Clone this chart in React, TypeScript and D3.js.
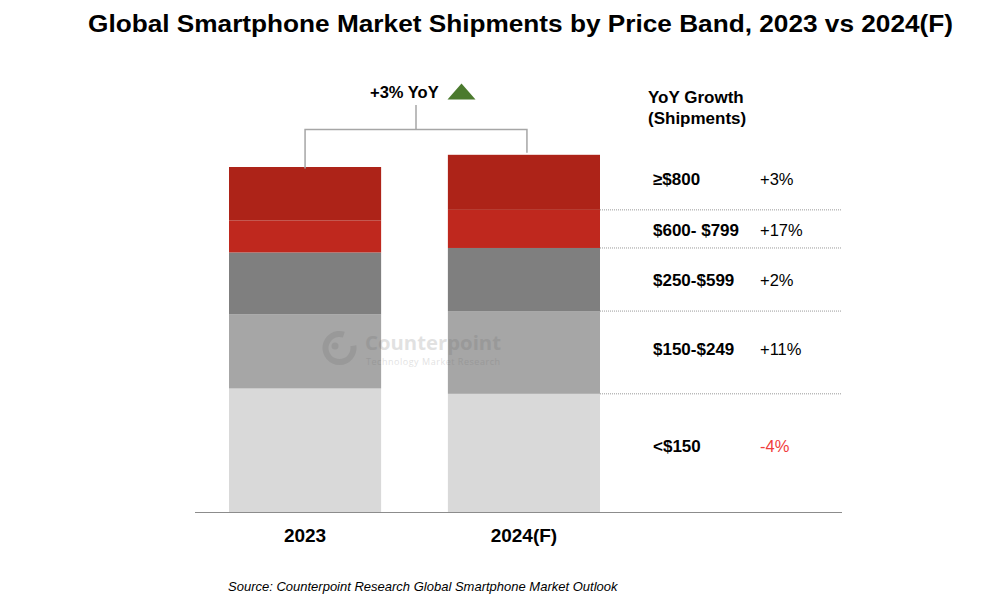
import React from "react";
import * as d3 from "d3";

const years = ["2023", "2024(F)"];
const bands = ["<$150", "$150-$249", "$250-$599", "$600- $799", "≥$800"];
const shipments2023 = [415, 249, 208, 107, 180];
const shipments2024 = [397, 278, 212, 128, 185];
const growthLabels = ["-4%", "+11%", "+2%", "+17%", "+3%"];
const bandColors = ["#D9D9D9", "#A6A6A6", "#7F7F7F", "#BF281E", "#AD2318"];
const totalGrowthLabel = "+3% YoY";

const W = 1000;
const H = 606;
const FONT = "'Liberation Sans', Arial, Helvetica, sans-serif";

export default function App() {
  const x = d3.scaleBand<string>().domain(years).range([229, 600]).paddingInner(0.305).paddingOuter(0);
  const y = d3.scaleLinear().domain([0, 1200]).range([512, 154.8]);

  const rows = years.map((yr, i) => {
    const vals = i === 0 ? shipments2023 : shipments2024;
    const obj: any = { year: yr };
    bands.forEach((b, j) => (obj[b] = vals[j]));
    return obj;
  });
  const series = d3.stack<any>().keys(bands)(rows);

  const bw = x.bandwidth();
  const c0 = (x(years[0]) as number) + bw / 2;
  const c1 = (x(years[1]) as number) + bw / 2 + 3;
  const top0 = y(d3.sum(shipments2023));
  const top1 = y(d3.sum(shipments2024));
  const bracketY = 129.5;
  const midX = (c0 + c1) / 2;
  const barRight = (x(years[1]) as number) + bw;

  return (
    <svg width={W} height={H} style={{ display: "block", position: "absolute", left: 0, top: 0 }} fontFamily={FONT}>
      <rect width={W} height={H} fill="#fff" />
      <text x={88} y={32} fontSize={23.5} fontWeight="bold" fill="#000" textLength={865} lengthAdjust="spacingAndGlyphs">
        Global Smartphone Market Shipments by Price Band, 2023 vs 2024(F)
      </text>

      {series.map((s, j) => (
        <g key={bands[j]} fill={bandColors[j]}>
          {s.map((d, i) => (
            <rect key={i} x={x(years[i])} width={bw} y={y(d[1])} height={y(d[0]) - y(d[1])} />
          ))}
        </g>
      ))}

      {/* dotted separators on the right */}
      {series.slice(0, bands.length - 1).map((s, j) => (
        <line key={j} x1={barRight} x2={842} y1={y(s[1][1])} y2={y(s[1][1])} stroke="#9a9a9a" strokeWidth={1} strokeDasharray="1,1" />
      ))}

      {/* watermark */}
      <g opacity={0.18} fill="#606060">
        <path
          d={d3.arc()({ innerRadius: 11, outerRadius: 17, startAngle: Math.PI * 0.45, endAngle: Math.PI * 2.1 }) as string}
          transform="translate(339.5,348)"
        />
        <circle cx={335} cy={346} r={3.5} />
        <text x={365} y={350} fontSize={19} fontWeight="bold" fontFamily="'Open Sans', sans-serif" textLength={136} lengthAdjust="spacingAndGlyphs">Counterpoint</text>
        <text x={366} y={365} fontSize={9} fontFamily="'Open Sans', sans-serif" textLength={134}>Technology Market Research</text>
      </g>

      {/* axis line */}
      <line x1={195} x2={842} y1={512.5} y2={512.5} stroke="#8c8c8c" strokeWidth={1.2} />
      {years.map((yr) => (
        <text key={yr} x={(x(yr) as number) + bw / 2} y={542} textAnchor="middle" fontSize={19} fontWeight="bold" fill="#000">
          {yr}
        </text>
      ))}

      {/* bracket */}
      <path
        d={`M${c0},${top0 + 1.5}V${bracketY}H${c1}V${top1 - 2}M${midX},${bracketY}V105`}
        fill="none"
        stroke="#a6a6a6"
        strokeWidth={1.5}
      />
      <text x={370} y={98} fontSize={16.5} fontWeight="bold" fill="#000">{totalGrowthLabel}</text>
      <path d="M447.5,99.5L461.5,83.5L475.5,99.5Z" fill="#4B7A2E" />

      {/* right-hand labels */}
      <text x={648} y={103} fontSize={17} fontWeight="bold" fill="#000">YoY Growth</text>
      <text x={648} y={123.5} fontSize={17} fontWeight="bold" fill="#000">(Shipments)</text>
      {series.map((s, j) => {
        const cy = (y(s[1][0]) + y(s[1][1])) / 2;
        const off = [-7, -3, 0, 1, -3.5][j];
        return (
          <g key={bands[j]}>
            <text x={653} y={cy + off + 6} fontSize={17} fontWeight="bold" fill="#000">{bands[j]}</text>
            <text x={760} y={cy + off + 6} fontSize={16.5} fill={growthLabels[j].startsWith("-") ? "#F03C3C" : "#000"}>
              {growthLabels[j]}
            </text>
          </g>
        );
      })}

      <text x={228} y={591} fontSize={13} fontStyle="italic" fill="#000">
        Source: Counterpoint Research Global Smartphone Market Outlook
      </text>
    </svg>
  );
}
